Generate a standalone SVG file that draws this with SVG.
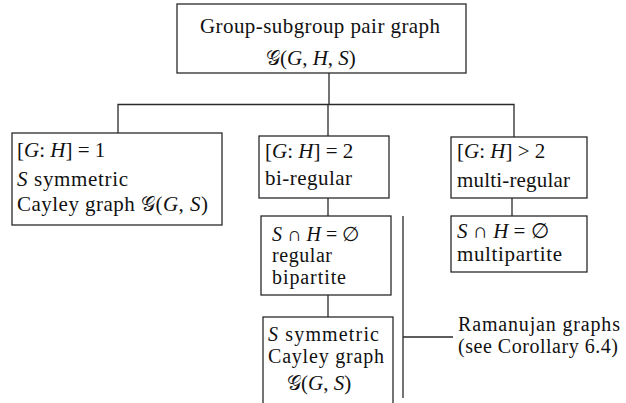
<svg xmlns="http://www.w3.org/2000/svg" width="626" height="403" viewBox="0 0 626 403">
  <style>
    .box { fill: #ffffff; stroke: #2a2a2a; stroke-width: 1.3; }
    .wire { fill: none; stroke: #2a2a2a; stroke-width: 1.3; }
    .t { font-family: "Liberation Serif", "Times New Roman", serif; font-size: 21px; fill: #111111; }
    .s { font-size: 20px; }
    .m { font-style: italic; }
    .cal { font-family: "DejaVu Serif", "DejaVu Sans", serif; font-style: normal; font-size: 20px; }
  </style>
  <rect width="626" height="403" fill="#ffffff"/>

  <g id="connectors">
    <path class="wire" d="M329,73 V104.5 M118,133 V104.5 H514 V137 M328,104.5 V136"/>
    <path class="wire" d="M328,198 V216 M328,295 V317"/>
    <path class="wire" d="M512,198 V216"/>
    <path class="wire" d="M403,216 V398 M403,337 H453"/>
  </g>

  <g id="root">
    <rect class="box" x="177" y="4" width="289" height="69"/>
    <text class="t" x="200" y="33" textLength="240" lengthAdjust="spacing">Group-subgroup pair graph</text>
    <text class="t" x="266" y="65"><tspan class="cal">𝒢</tspan>(<tspan class="m">G</tspan>, <tspan class="m">H</tspan>, <tspan class="m">S</tspan>)</text>
  </g>

  <g id="index-one">
    <rect class="box" x="12" y="133" width="210" height="92"/>
    <text class="t" x="17" y="157">[<tspan class="m">G</tspan>: <tspan class="m">H</tspan>] = 1</text>
    <text class="t" x="17" y="186" textLength="111" lengthAdjust="spacing"><tspan class="m">S</tspan> symmetric</text>
    <text class="t" x="17" y="211" textLength="191" lengthAdjust="spacing">Cayley graph <tspan class="cal">𝒢</tspan>(<tspan class="m">G</tspan>, <tspan class="m">S</tspan>)</text>
  </g>

  <g id="index-two">
    <rect class="box" x="259" y="136" width="130" height="62"/>
    <text class="t" x="265" y="158">[<tspan class="m">G</tspan>: <tspan class="m">H</tspan>] = 2</text>
    <text class="t" x="265" y="185" textLength="87" lengthAdjust="spacing">bi-regular</text>
  </g>

  <g id="index-many">
    <rect class="box" x="451" y="137" width="136" height="61"/>
    <text class="t" x="457" y="158">[<tspan class="m">G</tspan>: <tspan class="m">H</tspan>] &gt; 2</text>
    <text class="t" x="457" y="187" textLength="113" lengthAdjust="spacing">multi-regular</text>
  </g>

  <g id="multipartite">
    <rect class="box" x="451" y="216" width="136" height="56"/>
    <text class="t" x="457" y="238"><tspan class="m">S</tspan> ∩ <tspan class="m">H</tspan> = ∅</text>
    <text class="t" x="457" y="261" textLength="105" lengthAdjust="spacing">multipartite</text>
  </g>

  <g id="bipartite">
    <rect class="box" x="261" y="216" width="130" height="79"/>
    <text class="t s" x="272" y="241"><tspan class="m">S</tspan> ∩ <tspan class="m">H</tspan> = ∅</text>
    <text class="t s" x="272" y="262" textLength="60" lengthAdjust="spacing">regular</text>
    <text class="t s" x="272" y="284" textLength="74" lengthAdjust="spacing">bipartite</text>
  </g>

  <g id="cayley">
    <rect class="box" x="263" y="317" width="130" height="95"/>
    <text class="t s" x="268" y="341" textLength="111" lengthAdjust="spacing"><tspan class="m">S</tspan> symmetric</text>
    <text class="t s" x="268" y="363" textLength="116" lengthAdjust="spacing">Cayley graph</text>
    <text class="t" x="287" y="390"><tspan class="cal">𝒢</tspan>(<tspan class="m">G</tspan>, <tspan class="m">S</tspan>)</text>
  </g>

  <g id="ramanujan">
    <text class="t s" x="458" y="331" textLength="162" lengthAdjust="spacing">Ramanujan graphs</text>
    <text class="t s" x="458" y="353" textLength="160" lengthAdjust="spacing">(see Corollary 6.4)</text>
  </g>
</svg>
